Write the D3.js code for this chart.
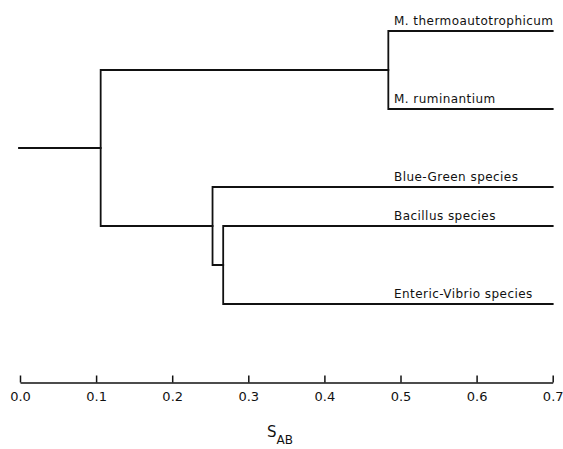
<!DOCTYPE html>
<html>
<head>
<meta charset="utf-8">
<script src="https://cdn.jsdelivr.net/npm/d3@7.9.0/dist/d3.min.js"></script>
<style>
  html, body { margin: 0; padding: 0; background: #fff; }
  svg { display: block; }
  .branch { fill: none; stroke: #111; stroke-width: 1.8; stroke-linejoin: miter; stroke-linecap: square; }
  .leaf-label { font-family: "DejaVu Sans", sans-serif; font-size: 12px; letter-spacing: 0.45px; fill: #111; }
  .axis text { font-family: "DejaVu Sans", sans-serif; font-size: 13px; fill: #111; }
  .axis path, .axis line { stroke: #111; stroke-width: 1.5; }
  .axis-title { font-family: "DejaVu Sans", sans-serif; fill: #111; }
</style>
</head>
<body>
<svg id="chart" width="563" height="449"></svg>
<script>
// leaves, top to bottom, and their vertical slot
const leafNames = ['M. thermoautotrophicum', 'M. ruminantium', 'Blue-Green species', 'Bacillus species', 'Enteric-Vibrio species'];
const leafRows = [0, 1, 2, 2.5, 3.5];
const leafS = 0.7;

// joins: [left child, right child, similarity at join]
const joinIds = ['methano', 'bacEnt', 'lower', 'root'];
const joinLeft = ['M. thermoautotrophicum', 'Bacillus species', 'Blue-Green species', 'methano'];
const joinRight = ['M. ruminantium', 'Enteric-Vibrio species', 'bacEnt', 'lower'];
const joinS = [0.484, 0.267, 0.253, 0.106];
const rootStemS = 0.0;

const tickValues = [0, 0.1, 0.2, 0.3, 0.4, 0.5, 0.6, 0.7];

const svg = d3.select('#chart');
const x = d3.scaleLinear().domain([0, 0.7]).range([20, 552.7]);
const y = d3.scaleLinear().domain([0, 3.5]).range([31, 304]);

// positions of every node
const nodes = new Map();
leafNames.forEach((name, i) => {
  nodes.set(name, { x: x(leafS), y: y(leafRows[i]) });
});
joinIds.forEach((id, i) => {
  const a = nodes.get(joinLeft[i]);
  const b = nodes.get(joinRight[i]);
  nodes.set(id, { x: x(joinS[i]), y: (a.y + b.y) / 2, a, b });
});

const g = svg.append('g');

joinIds.forEach((id) => {
  const n = nodes.get(id);
  const p = d3.path();
  p.moveTo(n.a.x, n.a.y);
  p.lineTo(n.x, n.a.y);
  p.lineTo(n.x, n.b.y);
  p.lineTo(n.b.x, n.b.y);
  g.append('path').attr('class', 'branch').attr('d', p.toString());
});

// stem into the root
const root = nodes.get('root');
g.append('path')
  .attr('class', 'branch')
  .attr('d', `M${x(rootStemS) - 1},${root.y}H${root.x}`);

// leaf labels
leafNames.forEach((name) => {
  const n = nodes.get(name);
  g.append('text')
    .attr('class', 'leaf-label')
    .attr('x', 394)
    .attr('y', n.y - 6)
    .text(name);
});

// axis
const axis = d3.axisBottom(x)
  .tickValues(tickValues)
  .tickFormat(d3.format('.1f'))
  .tickSizeInner(-7)
  .tickSizeOuter(0)
  .tickPadding(9);

svg.append('g')
  .attr('class', 'axis')
  .attr('transform', 'translate(0,382.5)')
  .call(axis)
  .call((s) => s.selectAll('text').attr('dy', '0.71em'));

const title = svg.append('text')
  .attr('class', 'axis-title')
  .attr('x', 267)
  .attr('y', 437);
title.append('tspan').attr('font-size', 15).text('S');
title.append('tspan').attr('font-size', 12).attr('dy', 7).text('AB');
</script>
</body>
</html>
